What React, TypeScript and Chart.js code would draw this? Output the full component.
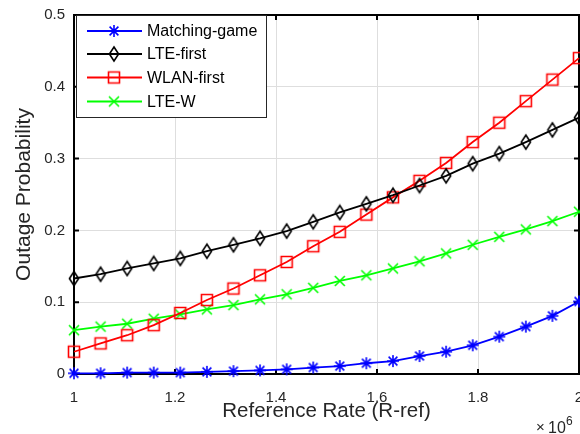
import { useEffect, useRef } from "react";
import { Chart, registerables } from "chart.js";
Chart.register(...registerables);

// Reference rate in units of 10^6
const rateMillions = [1.0, 1.0526, 1.1053, 1.1579, 1.2105, 1.2632, 1.3158, 1.3684, 1.4211, 1.4737, 1.5263, 1.5789, 1.6316, 1.6842, 1.7368, 1.7895, 1.8421, 1.8947, 1.9474, 2.0];
const matchingGame = [0.001, 0.001, 0.002, 0.002, 0.002, 0.003, 0.004, 0.005, 0.0065, 0.009, 0.011, 0.015, 0.018, 0.025, 0.031, 0.04, 0.052, 0.066, 0.081, 0.101];
const lteFirst = [0.133, 0.139, 0.147, 0.154, 0.161, 0.171, 0.18, 0.189, 0.199, 0.212, 0.225, 0.237, 0.249, 0.2625, 0.276, 0.293, 0.307, 0.323, 0.34, 0.357];
const wlanFirst = [0.031, 0.0426, 0.054, 0.068, 0.085, 0.103, 0.119, 0.1375, 0.156, 0.178, 0.198, 0.222, 0.246, 0.269, 0.294, 0.323, 0.35, 0.38, 0.41, 0.44];
const lteW = [0.061, 0.066, 0.07, 0.077, 0.083, 0.09, 0.096, 0.104, 0.111, 0.12, 0.1296, 0.1375, 0.147, 0.157, 0.168, 0.18, 0.191, 0.2014, 0.213, 0.226];
const seriesNames = ["Matching-game", "LTE-first", "WLAN-first", "LTE-W"];
const seriesColors = ["#0000ff", "#000000", "#ff0000", "#00ff00"];
const seriesMarkers = ["star", "diamond", "square", "cross"];
const xTickValues = [1.0, 1.2, 1.4, 1.6, 1.8, 2.0];
const yTickValues = [0, 0.1, 0.2, 0.3, 0.4, 0.5];

const FONT = "'Liberation Sans', Arial, sans-serif";
const TEXT = "#262626";

function makeMarker(kind: string, color: string): HTMLCanvasElement {
  const c = document.createElement("canvas");
  c.width = 18;
  c.height = 18;
  const ctx = c.getContext("2d")!;
  const m = 9;
  ctx.strokeStyle = color;
  ctx.lineWidth = 1.6;
  ctx.beginPath();
  if (kind === "star") {
    const r = 6;
    const d = 4.4;
    ctx.moveTo(m, m - r); ctx.lineTo(m, m + r);
    ctx.moveTo(m - r, m); ctx.lineTo(m + r, m);
    ctx.moveTo(m - d, m - d); ctx.lineTo(m + d, m + d);
    ctx.moveTo(m - d, m + d); ctx.lineTo(m + d, m - d);
  } else if (kind === "diamond") {
    ctx.moveTo(m, m - 7);
    ctx.lineTo(m + 4.6, m);
    ctx.lineTo(m, m + 7);
    ctx.lineTo(m - 4.6, m);
    ctx.closePath();
  } else if (kind === "square") {
    ctx.rect(m - 5.5, m - 5.5, 11, 11);
  } else {
    const r = 5;
    ctx.moveTo(m - r, m - r); ctx.lineTo(m + r, m + r);
    ctx.moveTo(m - r, m + r); ctx.lineTo(m + r, m - r);
  }
  ctx.stroke();
  return c;
}

export default function App() {
  const ref = useRef<HTMLCanvasElement | null>(null);

  useEffect(() => {
    if (!ref.current) return;
    const markers = seriesMarkers.map((k, i) => makeMarker(k, seriesColors[i]));
    const values = [matchingGame, lteFirst, wlanFirst, lteW];

    const frame = {
      id: "frame",
      beforeDatasetsDraw(chart: any) {
        const { ctx, chartArea: a, scales } = chart;
        ctx.save();
        ctx.strokeStyle = "#000";
        ctx.lineWidth = 2;
        ctx.strokeRect(a.left, a.top, a.right - a.left, a.bottom - a.top);
        ctx.beginPath();
        const tl = 5;
        xTickValues.forEach((v) => {
          const px = scales.x.getPixelForValue(v * 1e6);
          ctx.moveTo(px, a.bottom); ctx.lineTo(px, a.bottom - tl);
          ctx.moveTo(px, a.top); ctx.lineTo(px, a.top + tl);
        });
        yTickValues.forEach((v) => {
          const py = scales.y.getPixelForValue(v);
          ctx.moveTo(a.left, py); ctx.lineTo(a.left + tl, py);
          ctx.moveTo(a.right, py); ctx.lineTo(a.right - tl, py);
        });
        ctx.stroke();
        ctx.restore();
      },
      afterDatasetsDraw(chart: any) {
        const { ctx, chartArea: a } = chart;
        ctx.save();
        const lx = a.left + 2, ly = a.top, lw = 190, lh = 102;
        ctx.fillStyle = "#fff";
        ctx.fillRect(lx, ly, lw, lh);
        ctx.strokeStyle = TEXT;
        ctx.lineWidth = 1;
        ctx.strokeRect(lx + 0.5, ly + 0.5, lw, lh);
        const rows = [31, 54, 77.5, 101.5];
        ctx.font = `16px ${FONT}`;
        ctx.textBaseline = "middle";
        ctx.textAlign = "left";
        seriesNames.forEach((name, i) => {
          const y = rows[i];
          ctx.strokeStyle = seriesColors[i];
          ctx.lineWidth = 1.8;
          ctx.beginPath();
          ctx.moveTo(87, y); ctx.lineTo(142, y);
          ctx.stroke();
          const mk = markers[i];
          ctx.drawImage(mk, 114 - mk.width / 2, y - mk.height / 2);
          ctx.fillStyle = "#000";
          ctx.fillText(name, 147, y + 1);
        });
        ctx.restore();
      },
      afterDraw(chart: any) {
        const { ctx } = chart;
        ctx.save();
        ctx.fillStyle = TEXT;
        ctx.textBaseline = "alphabetic";
        ctx.textAlign = "left";
        ctx.font = `15px ${FONT}`;
        ctx.fillText("\u00d7", 536, 432);
        ctx.font = `16px ${FONT}`;
        ctx.fillText("10", 548, 433);
        ctx.font = `12px ${FONT}`;
        ctx.fillText("6", 566, 425);
        ctx.restore();
      },
    };

    const chart = new Chart(ref.current, {
      type: "line",
      data: {
        datasets: seriesNames.map((name, i) => ({
          label: name,
          data: rateMillions.map((r, j) => ({ x: r * 1e6, y: values[i][j] })),
          borderColor: seriesColors[i],
          backgroundColor: seriesColors[i],
          borderWidth: 1.8,
          pointStyle: markers[i] as any,
          pointRadius: 6,
          pointHoverRadius: 6,
          tension: 0,
          fill: false,
          clip: false as any,
        })),
      },
      options: {
        responsive: false,
        animation: false,
        events: [],
        layout: { autoPadding: false, padding: { top: 15, right: 1, left: 0, bottom: 0 } },
        plugins: { legend: { display: false }, tooltip: { enabled: false } },
        scales: {
          x: {
            type: "linear",
            min: 1e6,
            max: 2e6,
            afterFit(scale: any) {
              scale.height = 60;
              scale.paddingLeft = 0;
              scale.paddingRight = 0;
            },
            afterBuildTicks(scale: any) {
              scale.ticks = xTickValues.map((v) => ({ value: v * 1e6 }));
            },
            ticks: {
              autoSkip: false,
              maxRotation: 0,
              padding: 15,
              color: TEXT,
              font: { family: FONT, size: 15 },
              callback: (v: any) => String(Number((Number(v) / 1e6).toFixed(1))),
            },
            grid: { color: "#dedede", lineWidth: 1, drawTicks: false },
            border: { display: false },
            title: {
              display: true,
              text: "Reference Rate (R-ref)",
              color: TEXT,
              font: { family: FONT, size: 20.5 },
              padding: { top: 0, bottom: 10 },
            },
          },
          y: {
            type: "linear",
            min: 0,
            max: 0.5,
            afterFit(scale: any) {
              scale.width = 74;
              scale.paddingTop = 0;
              scale.paddingBottom = 0;
            },
            afterBuildTicks(scale: any) {
              scale.ticks = yTickValues.map((v) => ({ value: v }));
            },
            ticks: {
              autoSkip: false,
              padding: 9,
              color: TEXT,
              font: { family: FONT, size: 15 },
              callback: (v: any) => String(Number(Number(v).toFixed(1))),
            },
            grid: { color: "#dedede", lineWidth: 1, drawTicks: false },
            border: { display: false },
            title: {
              display: true,
              text: "Outage Probability",
              color: TEXT,
              font: { family: FONT, size: 21 },
              padding: { top: 12, bottom: 0 },
            },
          },
        },
      },
      plugins: [frame],
    });
    return () => chart.destroy();
  }, []);

  return (
    <div style={{ position: "absolute", left: 0, top: 0, width: 580, height: 434 }}>
      <canvas ref={ref} width={580} height={434} />
    </div>
  );
}
